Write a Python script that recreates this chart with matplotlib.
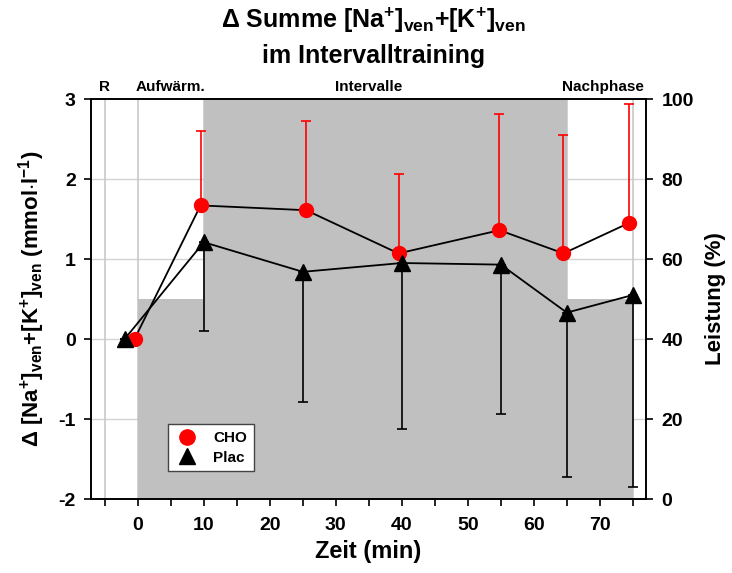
import matplotlib
matplotlib.use("Agg")
import matplotlib.pyplot as plt
from matplotlib.lines import Line2D

plt.rcParams['font.family'] = ['Liberation Sans', 'DejaVu Sans']
plt.rcParams['font.weight'] = 'bold'
plt.rcParams['axes.unicode_minus'] = False
plt.rcParams['mathtext.fontset'] = 'custom'
plt.rcParams['mathtext.rm'] = 'Liberation Sans:bold'
plt.rcParams['mathtext.it'] = 'Liberation Sans:bold'
plt.rcParams['mathtext.bf'] = 'Liberation Sans:bold'

# Data
cho_t = [-0.5, 9.5, 25.5, 39.5, 54.8, 64.5, 74.4]
cho_mean = [0.0, 1.67, 1.61, 1.07, 1.36, 1.07, 1.45]
cho_sd = [0.0, 0.93, 1.11, 0.99, 1.45, 1.48, 1.49]

plac_t = [-2, 10, 25, 40, 55, 65, 75]
plac_mean = [0.0, 1.21, 0.84, 0.95, 0.93, 0.33, 0.55]
plac_sd = [0.0, 1.11, 1.63, 2.07, 1.87, 2.05, 2.40]

phase_start = [0, 10, 65]
phase_width = [10, 55, 10]
phase_load = [50, 100, 50]

phase_names = ["R", "Aufwärm.", "Intervalle", "Nachphase"]
phase_label_x = [-5, 5, 35, 70.5]

fig = plt.figure(figsize=(7.32, 5.73), dpi=100)
ax = fig.add_axes([0.1243, 0.1291, 0.7582, 0.6981])
ax2 = ax.twinx()

# background on ax2
ax2.set_ylim(0, 100)
for v in [20, 40, 60, 80]:
    ax2.axhline(v, color='#d3d3d3', lw=1.0, zorder=0)
for v in [-5, 0, 10, 65, 75]:
    ax2.axvline(v, color='#c8c8c8', lw=1.2, zorder=0)
ax2.bar(phase_start, phase_load, width=phase_width, align='edge',
        color='#c0c0c0', edgecolor='none', zorder=1)

ax.set_zorder(ax2.get_zorder() + 1)
ax.patch.set_visible(False)

# data
ax.errorbar(cho_t, cho_mean, yerr=[[0]*len(cho_sd), cho_sd], fmt='none',
            ecolor='red', elinewidth=1.2, capsize=3.5, capthick=1.2, zorder=3)
ax.errorbar(plac_t, plac_mean, yerr=[plac_sd, [0]*len(plac_sd)], fmt='none',
            ecolor='black', elinewidth=1.2, capsize=3.5, capthick=1.2, zorder=3)
ax.plot(cho_t, cho_mean, color='black', lw=1.3, zorder=4)
ax.plot(plac_t, plac_mean, color='black', lw=1.3, zorder=4)
ax.plot(cho_t, cho_mean, 'o', color='red', ms=10, mec='red', zorder=5)
ax.plot(plac_t, plac_mean, '^', color='black', ms=11, zorder=5)

ax.set_xlim(-7.1, 77)
ax.set_ylim(-2, 3)
ax.set_xticks(range(-5, 76, 5))
ax.set_xticklabels(['' if (t < 0 or t % 10) else str(t) for t in range(-5, 76, 5)])
ax.set_yticks(range(-2, 4))
ax2.set_yticks(range(0, 101, 20))
for a in (ax, ax2):
    a.tick_params(direction='out', length=5, width=1.2, labelsize=14)
ax.tick_params(axis='x', pad=8)
ax.tick_params(axis='y', pad=6)
ax2.tick_params(axis='y', pad=6)
for a in (ax, ax2):
    for s in a.spines.values():
        s.set_linewidth(1.2)

ax.set_xlabel('Zeit (min)', fontsize=17, fontweight='bold', labelpad=4)
ax.set_ylabel(r'$\Delta$ [Na$^{+}$]$_{\mathrm{ven}}$+[K$^{+}$]$_{\mathrm{ven}}$ (mmol$\cdot$l$^{-1}$)',
              fontsize=16, fontweight='bold', labelpad=8)
ax2.set_ylabel('Leistung (%)', fontsize=16, fontweight='bold', labelpad=8)

fig.suptitle('Δ Summe [Na$^{+}$]$_{\\mathrm{ven}}$+[K$^{+}$]$_{\\mathrm{ven}}$\nim Intervalltraining',
             x=0.51, y=0.99, fontsize=18, fontweight='bold', linespacing=1.45)

for name, xp in zip(phase_names, phase_label_x):
    ax.text(xp, 1.012, name, transform=ax.get_xaxis_transform(), ha='center',
            va='bottom', fontsize=11, fontweight='bold')

handles = [Line2D([], [], marker='o', color='red', ls='none', ms=11),
           Line2D([], [], marker='^', color='black', ls='none', ms=11)]
leg = ax.legend(handles, ['CHO', 'Plac'], loc='lower left',
                bbox_to_anchor=(0.125, 0.05), fancybox=False, framealpha=1,
                edgecolor='#444444', prop={'weight': 'bold', 'size': 11},
                handlelength=1.6, handletextpad=0.9, borderpad=0.45,
                labelspacing=0.35)
leg.get_frame().set_linewidth(1.0)

fig.savefig('out.png', dpi=100)
